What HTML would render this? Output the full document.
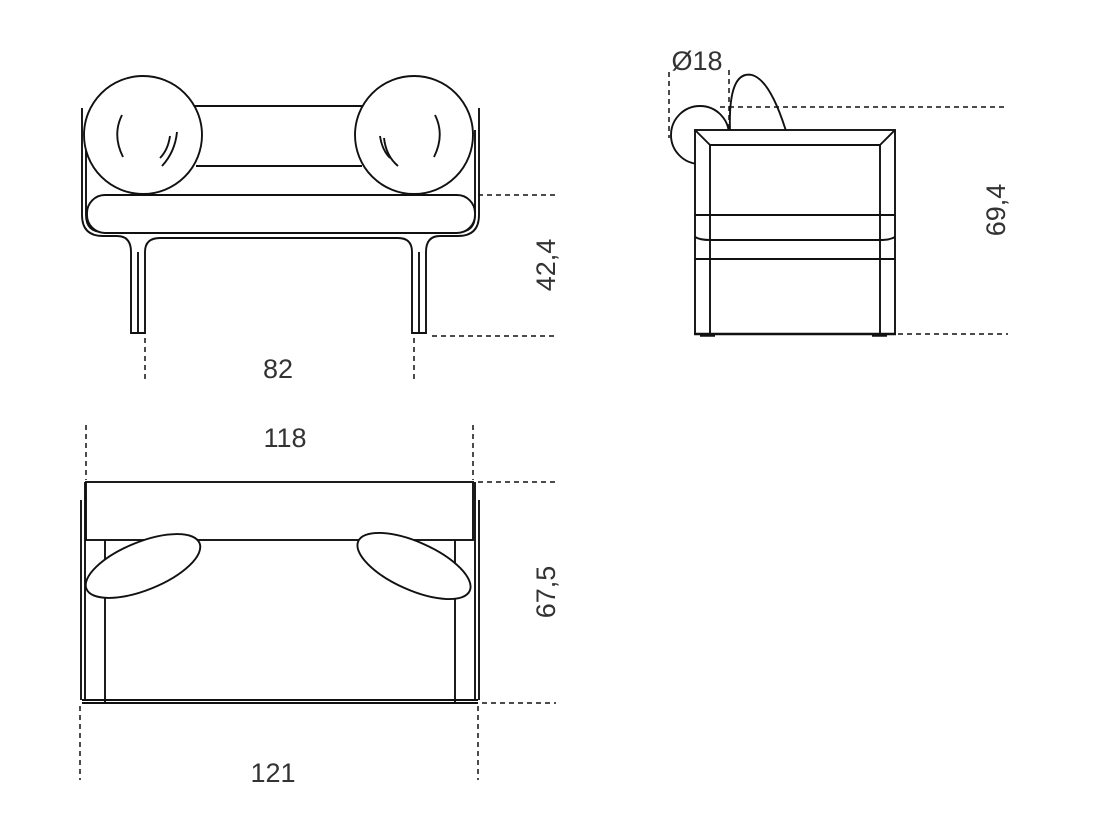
<!DOCTYPE html>
<html><head><style>html,body{margin:0;padding:0;background:#fff}svg{display:block}</style></head>
<body>
<svg width="1096" height="818" viewBox="0 0 1096 818" xmlns="http://www.w3.org/2000/svg" font-family="'Liberation Sans', sans-serif" font-size="27" fill="none" stroke="#111" stroke-width="1.9">
<!-- FRONT VIEW -->
<g>
<path d="M82,108 V215 Q82,236 103,236 H117 Q131,236 131,252 V333 H145 V252 Q145,238 160,238 H398 Q412,238 412,252 V333 H426 V252 Q426,236 440,236 H458 Q479,236 479,215 V108"/>
<path d="M86,130 V215 Q86,232 103,232 H458 Q475,232 475,215 V130"/>
<line x1="138" y1="252" x2="138" y2="333"/><line x1="419" y1="252" x2="419" y2="333"/>
<line x1="190" y1="106" x2="370" y2="106"/><line x1="196" y1="166" x2="362" y2="166"/>
<rect x="87" y="195" width="388" height="38" rx="18" fill="#fff"/>
<circle cx="143" cy="135" r="59" fill="#fff"/>
<circle cx="414" cy="135" r="59" fill="#fff"/>
<path d="M122,115 Q112,135 123,157"/><path d="M170,136 Q168,150 160,158"/><path d="M177,132 Q175,152 162,166"/>
<path d="M435,115 Q445,135 434,157"/><path d="M380,136 Q382,150 390,158"/><path d="M384,138 Q386,156 398,166"/>
</g>
<g stroke-dasharray="5,4" stroke-width="1.5">
<line x1="478" y1="195" x2="556" y2="195"/><line x1="432" y1="336" x2="556" y2="336"/>
<line x1="145" y1="338" x2="145" y2="380"/><line x1="414" y1="338" x2="414" y2="380"/>
</g>
<text x="278" y="378" text-anchor="middle" fill="#333" stroke="none">82</text>
<text transform="translate(555,265) rotate(-90)" text-anchor="middle" fill="#333" stroke="none">42,4</text>

<!-- SIDE VIEW -->
<g>
<circle cx="700" cy="135" r="29"/>
<path d="M730,131 Q728,70 752,75 Q770,80 786,131"/>
<rect x="695" y="130" width="200" height="204" fill="#fff"/>
<polyline points="710,334 710,145 880,145 880,334"/>
<line x1="695" y1="130" x2="710" y2="145"/><line x1="895" y1="130" x2="880" y2="145"/>
<line x1="695" y1="215" x2="895" y2="215"/><line x1="710" y1="240" x2="880" y2="240"/>
<path d="M695,237 Q700,240 710,240 M880,240 Q890,240 895,237"/>
<line x1="695" y1="259" x2="895" y2="259"/>
<line x1="694" y1="334" x2="896" y2="334" stroke-width="2.6"/>
<line x1="700" y1="335" x2="715" y2="335" stroke-width="3.5"/><line x1="872" y1="335" x2="887" y2="335" stroke-width="3.5"/>
</g>
<g stroke-dasharray="5,4" stroke-width="1.5">
<line x1="669" y1="72" x2="669" y2="138"/><line x1="729" y1="70" x2="729" y2="130"/>
<line x1="720" y1="107" x2="1008" y2="107"/><line x1="898" y1="334" x2="1008" y2="334"/>
</g>
<text x="697" y="70" text-anchor="middle" fill="#333" stroke="none">Ø18</text>
<text transform="translate(1005,210) rotate(-90)" text-anchor="middle" fill="#333" stroke="none">69,4</text>

<!-- TOP VIEW -->
<g>
<rect x="86" y="482" width="387" height="58"/>
<line x1="81" y1="500" x2="81" y2="700"/><line x1="85" y1="482" x2="85" y2="700"/>
<line x1="475" y1="482" x2="475" y2="700"/><line x1="479" y1="500" x2="479" y2="700"/>
<line x1="105" y1="540" x2="105" y2="702"/><line x1="455" y1="540" x2="455" y2="702"/>
<line x1="82" y1="700" x2="478" y2="700"/><line x1="82" y1="703" x2="478" y2="703"/>
<ellipse cx="143" cy="566" rx="61" ry="24" transform="rotate(-22 143 566)" fill="#fff"/>
<ellipse cx="414" cy="566" rx="61" ry="24" transform="rotate(24 414 566)" fill="#fff"/>
</g>
<g stroke-dasharray="5,4" stroke-width="1.5">
<line x1="86" y1="425" x2="86" y2="480"/><line x1="473" y1="425" x2="473" y2="480"/>
<line x1="478" y1="482" x2="556" y2="482"/><line x1="482" y1="703" x2="556" y2="703"/>
<line x1="80" y1="706" x2="80" y2="780"/><line x1="478" y1="706" x2="478" y2="780"/>
</g>
<text x="285" y="447" text-anchor="middle" fill="#333" stroke="none">118</text>
<text x="273" y="782" text-anchor="middle" fill="#333" stroke="none">121</text>
<text transform="translate(555,592) rotate(-90)" text-anchor="middle" fill="#333" stroke="none">67,5</text>
</svg>
</body></html>
